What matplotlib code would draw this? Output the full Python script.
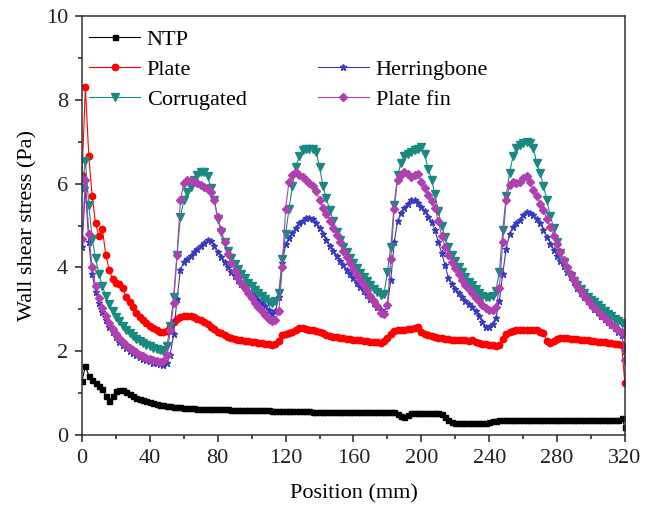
import matplotlib
matplotlib.use("Agg")
import matplotlib.pyplot as plt
from matplotlib.lines import Line2D
from matplotlib.ticker import MultipleLocator

plt.rcParams['font.family'] = 'Liberation Serif'

# positions along the channel (mm)
pos_mm = list(range(0, 321, 2))

ntp = [
    1.30, 1.65, 1.42, 1.32, 1.24, 1.17, 1.10, 0.92, 0.82, 0.92,
    1.04, 1.08, 1.07, 1.03, 0.98, 0.93, 0.89, 0.86, 0.83, 0.80,
    0.78, 0.76, 0.74, 0.72, 0.71, 0.70, 0.69, 0.68, 0.67, 0.66,
    0.65, 0.65, 0.64, 0.64, 0.63, 0.63, 0.62, 0.62, 0.62, 0.61,
    0.61, 0.61, 0.61, 0.61, 0.60, 0.60, 0.60, 0.60, 0.60, 0.60,
    0.60, 0.59, 0.59, 0.59, 0.59, 0.59, 0.58, 0.58, 0.58, 0.58,
    0.58, 0.58, 0.57, 0.57, 0.57, 0.57, 0.57, 0.57, 0.56, 0.56,
    0.56, 0.56, 0.56, 0.56, 0.56, 0.56, 0.55, 0.55, 0.55, 0.55,
    0.55, 0.55, 0.55, 0.55, 0.55, 0.55, 0.55, 0.55, 0.55, 0.55,
    0.55, 0.55, 0.54, 0.50, 0.45, 0.43, 0.47, 0.52, 0.53, 0.53,
    0.53, 0.53, 0.53, 0.53, 0.53, 0.53, 0.50, 0.42, 0.35, 0.30,
    0.28, 0.29, 0.29, 0.29, 0.29, 0.29, 0.29, 0.29, 0.29, 0.29,
    0.30, 0.33, 0.34, 0.35, 0.35, 0.35, 0.35, 0.35, 0.35, 0.35,
    0.35, 0.35, 0.35, 0.35, 0.35, 0.35, 0.35, 0.35, 0.35, 0.35,
    0.35, 0.35, 0.35, 0.35, 0.35, 0.35, 0.35, 0.35, 0.35, 0.35,
    0.35, 0.35, 0.35, 0.35, 0.35, 0.35, 0.35, 0.35, 0.36, 0.40,
    0.20,
]

plate = [
    6.20, 8.30, 6.65, 5.70, 5.05, 4.74, 4.92, 4.30, 3.95, 3.72,
    3.64, 3.60, 3.50, 3.30, 3.18, 3.05, 2.92, 2.82, 2.74, 2.67,
    2.60, 2.55, 2.50, 2.46, 2.45, 2.48, 2.58, 2.70, 2.77, 2.81,
    2.83, 2.84, 2.84, 2.82, 2.78, 2.74, 2.69, 2.64, 2.58, 2.52,
    2.47, 2.43, 2.39, 2.35, 2.32, 2.30, 2.28, 2.27, 2.25, 2.24,
    2.22, 2.21, 2.20, 2.19, 2.18, 2.17, 2.16, 2.17, 2.25, 2.38,
    2.42, 2.44, 2.47, 2.51, 2.55, 2.56, 2.54, 2.51, 2.50, 2.49,
    2.47, 2.43, 2.39, 2.36, 2.34, 2.33, 2.32, 2.31, 2.30, 2.29,
    2.28, 2.27, 2.26, 2.25, 2.24, 2.23, 2.22, 2.21, 2.20, 2.24,
    2.32, 2.42, 2.48, 2.50, 2.51, 2.51, 2.52, 2.52, 2.55, 2.58,
    2.47, 2.40, 2.38, 2.36, 2.34, 2.32, 2.31, 2.30, 2.29, 2.28,
    2.28, 2.27, 2.26, 2.26, 2.25, 2.28, 2.22, 2.20, 2.18, 2.17,
    2.15, 2.14, 2.13, 2.14, 2.30, 2.42, 2.47, 2.49, 2.50, 2.50,
    2.50, 2.50, 2.51, 2.51, 2.50, 2.47, 2.43, 2.24, 2.20, 2.25,
    2.30, 2.31, 2.31, 2.31, 2.30, 2.30, 2.29, 2.28, 2.27, 2.26,
    2.25, 2.24, 2.23, 2.22, 2.21, 2.20, 2.19, 2.18, 2.17, 2.15,
    1.23,
]

herringbone = [
    4.50, 5.90, 4.60, 3.85, 3.42, 3.15, 2.93, 2.74, 2.58, 2.45,
    2.33, 2.23, 2.14, 2.07, 2.00, 1.95, 1.90, 1.86, 1.82, 1.79,
    1.76, 1.73, 1.71, 1.69, 1.67, 1.72, 1.92, 2.40, 3.25, 3.95,
    4.12, 4.20, 4.28, 4.36, 4.44, 4.52, 4.59, 4.65, 4.63, 4.52,
    4.37, 4.25, 4.12, 4.00, 3.90, 3.80, 3.70, 3.60, 3.51, 3.43,
    3.36, 3.29, 3.22, 3.15, 3.08, 2.98, 2.90, 2.95, 3.30, 4.10,
    4.55, 4.70, 4.82, 4.95, 5.05, 5.12, 5.17, 5.18, 5.15, 5.05,
    4.95, 4.80, 4.65, 4.52, 4.40, 4.28, 4.15, 4.05, 3.94, 3.84,
    3.74, 3.64, 3.54, 3.44, 3.34, 3.24, 3.14, 3.06, 2.98, 2.94,
    3.10, 3.70, 4.60, 5.10, 5.30, 5.42, 5.52, 5.62, 5.60, 5.55,
    5.45, 5.35, 5.20, 5.08, 4.90, 4.60, 4.35, 4.05, 3.75, 3.60,
    3.48, 3.38, 3.30, 3.20, 3.12, 3.05, 2.95, 2.83, 2.70, 2.57,
    2.58, 2.66, 2.80, 3.20, 3.85, 4.45, 4.80, 4.97, 5.07, 5.14,
    5.25, 5.33, 5.30, 5.25, 5.15, 5.05, 4.90, 4.73, 4.57, 4.42,
    4.28, 4.16, 4.03, 3.90, 3.77, 3.65, 3.52, 3.40, 3.30, 3.20,
    3.10, 3.01, 2.93, 2.85, 2.77, 2.70, 2.62, 2.55, 2.47, 2.38,
    2.00,
]

corrugated = [
    5.90, 6.55, 5.50, 4.68, 4.22, 3.84, 3.56, 3.32, 3.12, 2.96,
    2.82, 2.71, 2.60, 2.51, 2.43, 2.36, 2.30, 2.25, 2.20, 2.16,
    2.12, 2.08, 2.05, 2.02, 2.01, 2.12, 2.60, 3.30, 4.30, 5.20,
    5.60, 5.80, 5.93, 6.08, 6.20, 6.28, 6.28, 6.18, 5.90, 5.60,
    5.15, 4.85, 4.60, 4.40, 4.22, 4.08, 3.96, 3.85, 3.74, 3.64,
    3.55, 3.47, 3.39, 3.31, 3.24, 3.18, 3.15, 3.20, 3.40, 4.20,
    4.80, 5.40, 5.95, 6.40, 6.65, 6.80, 6.82, 6.82, 6.82, 6.75,
    6.40, 5.95, 5.65, 5.38, 5.12, 4.85, 4.65, 4.50, 4.36, 4.23,
    4.10, 3.98, 3.87, 3.77, 3.67, 3.57, 3.48, 3.41, 3.35, 3.36,
    3.90, 4.50, 5.50, 6.20, 6.50, 6.66, 6.72, 6.76, 6.80, 6.84,
    6.87, 6.70, 6.35, 6.10, 5.75, 5.35, 5.00, 4.72, 4.50, 4.30,
    4.15, 4.02, 3.90, 3.78, 3.66, 3.57, 3.48, 3.40, 3.33, 3.30,
    3.30, 3.33, 3.45, 3.90, 4.90, 5.70, 6.25, 6.65, 6.85, 6.92,
    6.98, 7.00, 6.98, 6.85, 6.50, 6.25, 5.95, 5.60, 5.22, 4.95,
    4.60, 4.35, 4.12, 3.94, 3.80, 3.68, 3.58, 3.48, 3.38, 3.30,
    3.23, 3.17, 3.11, 3.04, 2.97, 2.90, 2.84, 2.78, 2.73, 2.68,
    2.62,
]

plate_fin = [
    4.67, 6.10, 4.80, 4.00, 3.56, 3.28, 3.04, 2.84, 2.68, 2.54,
    2.42, 2.32, 2.23, 2.15, 2.08, 2.02, 1.97, 1.92, 1.88, 1.85,
    1.82, 1.79, 1.77, 1.75, 1.76, 1.90, 2.50, 3.15, 4.30, 5.60,
    6.02, 6.08, 6.07, 6.05, 6.02, 5.97, 5.93, 5.88, 5.80, 5.60,
    5.20, 4.90, 4.60, 4.32, 4.10, 3.92, 3.78, 3.64, 3.50, 3.38,
    3.26, 3.15, 3.06, 2.96, 2.87, 2.78, 2.71, 2.75, 2.95, 4.00,
    5.40, 6.05, 6.20, 6.28, 6.20, 6.15, 6.08, 6.02, 5.95, 5.83,
    5.60, 5.43, 5.28, 5.12, 4.95, 4.78, 4.60, 4.40, 4.24, 4.10,
    3.96, 3.82, 3.70, 3.58, 3.46, 3.33, 3.20, 3.08, 2.92, 2.90,
    3.10, 4.20, 5.40, 6.10, 6.20, 6.27, 6.22, 6.17, 6.20, 6.22,
    6.05, 5.90, 5.73, 5.58, 5.43, 5.10, 4.75, 4.50, 4.30, 4.12,
    3.98, 3.84, 3.70, 3.58, 3.48, 3.38, 3.28, 3.19, 3.11, 3.04,
    2.98, 2.98, 3.05, 3.50, 4.60, 5.60, 5.98, 6.05, 6.02, 6.05,
    6.13, 6.18, 6.05, 5.85, 5.70, 5.52, 5.37, 5.15, 4.97, 4.76,
    4.57, 4.38, 4.18, 4.00, 3.84, 3.70, 3.56, 3.44, 3.32, 3.22,
    3.12, 3.03, 2.95, 2.87, 2.79, 2.72, 2.65, 2.58, 2.51, 2.45,
    1.80,
]

fig = plt.figure(figsize=(6.53, 5.05), dpi=100)
ax = fig.add_axes([0.1256, 0.1386, 0.8314, 0.8294])

lw = 0.8
l_ntp, = ax.plot(pos_mm, ntp, color='black', marker='s', ms=3.6, lw=lw, label='NTP')
l_plate, = ax.plot(pos_mm, plate, color='#FF0000', marker='o', ms=4.6, lw=lw, label='Plate')
l_her, = ax.plot(pos_mm, herringbone, color='#3838C0', marker='*', ms=5, lw=lw, label='Herringbone')
l_cor, = ax.plot(pos_mm, corrugated, color='#1A8A80', marker='v', ms=5.5, lw=lw, label='Corrugated')
l_pf, = ax.plot(pos_mm, plate_fin, color='#B040B0', marker='D', ms=4.5, lw=lw, label='Plate fin')

ax.set_xlim(0, 320)
ax.set_ylim(0, 10)
ax.xaxis.set_major_locator(MultipleLocator(40))
ax.xaxis.set_minor_locator(MultipleLocator(20))
ax.yaxis.set_major_locator(MultipleLocator(2))
ax.yaxis.set_minor_locator(MultipleLocator(1))
ax.tick_params(which='both', direction='out', top=False, right=False,
               labelsize=16, width=1.1, colors='#222222', pad=5)
ax.tick_params(which='major', length=5)
ax.tick_params(which='minor', length=3)
for sp in ax.spines.values():
    sp.set_linewidth(1.1)
    sp.set_color('#333333')

ax.set_xlabel('Position (mm)', fontsize=16, labelpad=12)
ax.set_ylabel('Wall shear stress (Pa)', fontsize=16, labelpad=6)

# empty slot keeps NTP alone on the first row
blank = Line2D([], [], linestyle='none')
ax.legend([l_ntp, l_plate, l_cor, blank, l_her, l_pf],
          ['NTP', 'Plate', 'Corrugated', '', 'Herringbone', 'Plate fin'],
          ncol=2, loc='upper left', bbox_to_anchor=(0.013, 0.968),
          frameon=False, fontsize=16, borderpad=0, borderaxespad=0,
          handlelength=2.3, handletextpad=0.3, labelspacing=0.42,
          columnspacing=3.2)

fig.savefig('out.png', dpi=100)
